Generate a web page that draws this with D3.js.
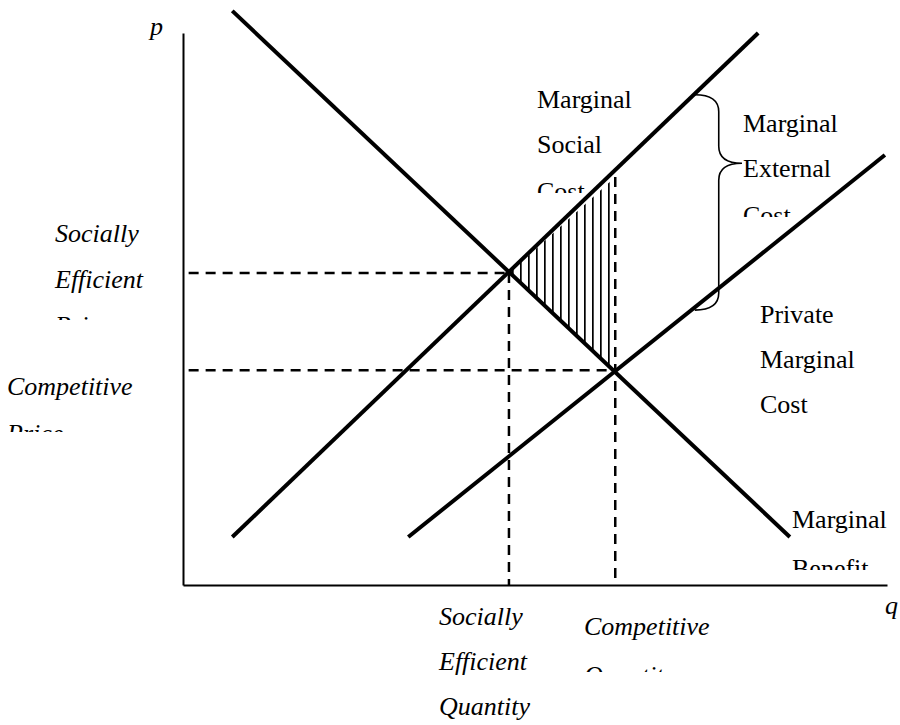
<!DOCTYPE html>
<html>
<head>
<meta charset="utf-8">
<script src="https://cdn.jsdelivr.net/npm/d3@7"></script>
<style>
    body { margin: 0; background: #fff; }
    svg text { font-family: "Liberation Serif", "Times New Roman", serif; font-size: 26px; fill: #000; }
</style>
</head>
<body>
<div id="chart"></div>
<script>
// externality diagram: MSC vs private MC vs marginal benefit

// curves (q, p) end points, axis units 0-10
const mbCurve = [{q: 0.70, p: 10.40}, {q: 8.62, p: 0.87}];
const mscCurve = [{q: 0.70, p: 0.87}, {q: 8.17, p: 10.00}];
const pmcCurve = [{q: 3.20, p: 0.87}, {q: 9.97, p: 7.79}];

// the two equilibria
const efficientPoint = {q: 4.63, p: 5.65};
const competitivePoint = {q: 6.14, p: 3.89};

// hatched triangle (welfare loss)
const lossArea = [{q: 4.63, p: 5.65}, {q: 6.14, p: 7.39}, {q: 6.14, p: 3.89}];

// brace marking the external cost gap
const brace = {qAttach: 7.27, qSpine: 7.61, qTip: 7.94, pTop: 8.88, pTip: 7.64, pBottom: 4.98};

// label texts
const mscLabel = ["Marginal", "Social", "Cost"];
const mecLabel = ["Marginal", "External", "Cost"];
const pmcLabel = ["Private", "Marginal", "Cost"];
const mbLabel = ["Marginal", "Benefit"];
const effPriceLabel = ["Socially", "Efficient", "Price"];
const compPriceLabel = ["Competitive", "Price"];
const effQtyLabel = ["Socially", "Efficient", "Quantity"];
const compQtyLabel = ["Competitive", "Quantity"];

const width = 900, height = 725;

const svg = d3.select("#chart").append("svg")
    .attr("width", width)
    .attr("height", height);

const x = d3.scaleLinear().domain([0, 10]).range([183, 887]);
const y = d3.scaleLinear().domain([0, 10]).range([585, 33]);

const defs = svg.append("defs");

// vertical hatching
defs.append("pattern")
    .attr("id", "hatch")
    .attr("patternUnits", "userSpaceOnUse")
    .attr("x", 0).attr("y", 0)
    .attr("width", 8).attr("height", 8)
    .append("rect")
    .attr("x", 0).attr("y", 0)
    .attr("width", 1.7).attr("height", 8)
    .attr("fill", "#000");

svg.append("path")
    .datum(lossArea)
    .attr("d", d3.line().x(d => x(d.q)).y(d => y(d.p)))
    .attr("fill", "url(#hatch)");

// axes, no ticks, just the lines
svg.append("g")
    .attr("transform", `translate(0, ${y(0)})`)
    .call(d3.axisBottom(x).tickValues([]).tickSizeOuter(0))
    .select(".domain").attr("stroke-width", 2);
svg.append("g")
    .attr("transform", `translate(${x(0)}, 0)`)
    .call(d3.axisLeft(y).tickValues([]).tickSizeOuter(0))
    .select(".domain").attr("stroke-width", 2);

svg.append("text").attr("x", 150).attr("y", 35).style("font-style", "italic").text("p");
svg.append("text").attr("x", 885).attr("y", 614).style("font-style", "italic").text("q");

// dashed guides
const dashed = svg.append("g")
    .attr("stroke", "#000")
    .attr("stroke-width", 2.5)
    .attr("stroke-dasharray", "10,7")
    .attr("fill", "none");

[efficientPoint, competitivePoint].forEach(pt => {
    dashed.append("line")
        .attr("x1", x(0.08)).attr("y1", y(pt.p))
        .attr("x2", x(pt.q)).attr("y2", y(pt.p));
});
dashed.append("line")
    .attr("x1", x(efficientPoint.q)).attr("y1", y(efficientPoint.p))
    .attr("x2", x(efficientPoint.q)).attr("y2", y(0));
dashed.append("line")
    .attr("x1", x(competitivePoint.q)).attr("y1", y(lossArea[1].p))
    .attr("x2", x(competitivePoint.q)).attr("y2", y(0));

// the three curves
const line = d3.line().x(d => x(d.q)).y(d => y(d.p));
svg.selectAll(".curve")
    .data([mbCurve, mscCurve, pmcCurve])
    .enter()
    .append("path")
    .attr("class", "curve")
    .attr("d", line)
    .attr("fill", "none")
    .attr("stroke", "#000")
    .attr("stroke-width", 4);

// curly brace
let bx0 = x(brace.qAttach), bx1 = x(brace.qSpine), bx2 = x(brace.qTip);
let yt = y(brace.pTop), ym = y(brace.pTip), yb = y(brace.pBottom);
let r = 17;
let bracePath = `M${bx0},${yt} Q${bx1},${yt} ${bx1},${yt + r} L${bx1},${ym - r} Q${bx1},${ym} ${bx2},${ym}`
    + ` Q${bx1},${ym} ${bx1},${ym + r} L${bx1},${yb - r} Q${bx1},${yb} ${bx0},${yb}`;
svg.append("path")
    .attr("d", bracePath)
    .attr("fill", "none")
    .attr("stroke", "#000")
    .attr("stroke-width", 1.6);

// text blocks, clipped like the original text boxes
function addLabel(id, lines, tx, baselines, clipBottom, italic) {
    defs.append("clipPath").attr("id", id)
        .append("rect")
        .attr("x", 0).attr("y", 0)
        .attr("width", width).attr("height", clipBottom);
    let g = svg.append("g").attr("clip-path", `url(#${id})`);
    lines.forEach((t, i) => {
        g.append("text")
            .attr("x", tx)
            .attr("y", baselines[i])
            .style("font-style", italic ? "italic" : "normal")
            .text(t);
    });
}

addLabel("clipMsc", mscLabel, 537, [108, 153, 200], 193, false);
addLabel("clipMec", mecLabel, 743, [132, 177, 224], 217, false);
addLabel("clipPmc", pmcLabel, 760, [323, 368, 413], height, false);
addLabel("clipMb", mbLabel, 792, [528, 577], 570, false);
addLabel("clipEffP", effPriceLabel, 55, [242, 288, 334], 320, true);
addLabel("clipCompP", compPriceLabel, 7, [395, 442], 432, true);
addLabel("clipEffQ", effQtyLabel, 439, [625, 670, 715], height, true);
addLabel("clipCompQ", compQtyLabel, 584, [635, 684], 672, true);
</script>
</body>
</html>
